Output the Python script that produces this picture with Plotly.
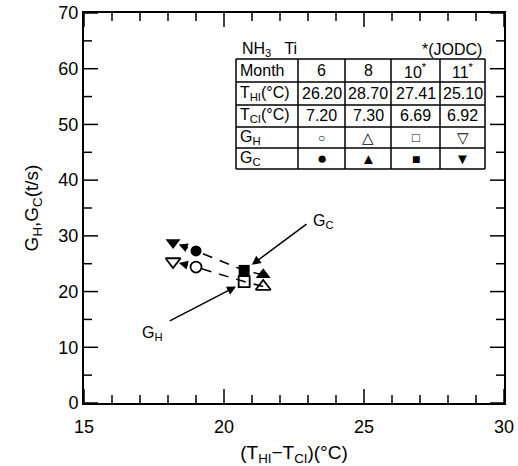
import plotly.graph_objects as go

# ---- data ----
months = ["6", "8", "10", "11"]
T_HI = [26.20, 28.70, 27.41, 25.10]
T_CI = [7.20, 7.30, 6.69, 6.92]
G_H = [24.4, 20.9, 21.8, 25.4]
G_C = [27.3, 23.0, 23.8, 28.8]
dT = [round(h - c, 2) for h, c in zip(T_HI, T_CI)]

x_range = [15, 30]
y_range = [0, 70]
x_major = list(range(15, 31, 5))
x_minor = [v for v in range(15, 31) if v % 5]
y_major = list(range(0, 71, 10))
y_minor = list(range(5, 70, 10))

sym_H = ["circle-open", "triangle-up-open", "square-open", "triangle-down-open"]
sym_C = ["circle", "triangle-up", "square", "triangle-down"]
glyph_H = ["○", "△", "□", "▽"]
glyph_C = ["●", "▲", "■", "▼"]

# line order (by temperature difference, descending) ending at November
order = sorted(range(4), key=lambda i: -dT[i])

W, H = 518, 466
L, R, T, B = 84, 14, 13, 63
PW, PH = W - L - R, H - T - B
FONT = "Liberation Sans, Arial, sans-serif"


def px(xp):
    return (xp - L) / PW


def py(yp):
    return (H - B - yp) / PH


fig = go.Figure()

# dashed trend lines (all but final segment)
for G in (G_H, G_C):
    xs = [dT[i] for i in order[:-1]]
    ys = [G[i] for i in order[:-1]]
    fig.add_trace(go.Scatter(x=xs, y=ys, mode="lines",
                             line=dict(color="black", width=1.5, dash="10px,8px"),
                             hoverinfo="skip", showlegend=False))

# markers
for i in range(4):
    fig.add_trace(go.Scatter(x=[dT[i]], y=[G_H[i]], mode="markers",
                             marker=dict(symbol=sym_H[i], size=13 if "triangle" in sym_H[i] else 11,
                                         color="black", line=dict(width=1.8, color="black")),
                             showlegend=False))
    fig.add_trace(go.Scatter(x=[dT[i]], y=[G_C[i]], mode="markers",
                             marker=dict(symbol=sym_C[i], size=13 if "triangle" in sym_C[i] else 11,
                                         color="black"),
                             showlegend=False))

annotations = []
# final segment arrows (Jun -> Nov)
a, b = order[-2], order[-1]
for G in (G_H, G_C):
    annotations.append(dict(x=dT[b], y=G[b], ax=dT[a], ay=G[a], xref="x", yref="y",
                            axref="x", ayref="y", showarrow=True, arrowhead=2,
                            arrowsize=1.2, arrowwidth=1.5, arrowcolor="black",
                            standoff=6, startstandoff=7, text=""))

# label arrows
annotations.append(dict(x=20.99, y=24.8, ax=23.0, ay=32.3, xref="x", yref="y",
                        axref="x", ayref="y", showarrow=True, arrowhead=2,
                        arrowsize=1.2, arrowwidth=1.5, arrowcolor="black", text=""))
annotations.append(dict(x=23.55, y=32.6, xref="x", yref="y", showarrow=False,
                        text="G<sub>C</sub>", font=dict(size=16, color="black", family=FONT)))
annotations.append(dict(x=20.43, y=20.9, ax=18.01, ay=14.6, xref="x", yref="y",
                        axref="x", ayref="y", showarrow=True, arrowhead=2,
                        arrowsize=1.2, arrowwidth=1.5, arrowcolor="black", text=""))
annotations.append(dict(x=17.45, y=12.4, xref="x", yref="y", showarrow=False,
                        text="G<sub>H</sub>", font=dict(size=16, color="black", family=FONT)))

shapes = []
# ---- axis ticks (inside, all four sides) ----
TK = dict(color="black", width=1.5)
for vals, ln in ((x_major, 14), (x_minor, 8)):
    for v in vals:
        shapes.append(dict(type="line", xref="x", yref="paper", x0=v, x1=v,
                           y0=0, y1=ln / PH, line=TK))
        shapes.append(dict(type="line", xref="x", yref="paper", x0=v, x1=v,
                           y0=1, y1=1 - ln / PH, line=TK))
for vals, ln in ((y_major, 14), (y_minor, 8)):
    for v in vals:
        shapes.append(dict(type="line", xref="paper", yref="y", y0=v, y1=v,
                           x0=0, x1=ln / PW, line=TK))
        shapes.append(dict(type="line", xref="paper", yref="y", y0=v, y1=v,
                           x0=1, x1=1 - ln / PW, line=TK))

# ---- table ----
col_x = [236, 298, 345, 391, 440, 485]
row_y = [59, 82, 105, 127, 148, 169]
for xv in col_x:
    shapes.append(dict(type="line", xref="paper", yref="paper",
                       x0=px(xv), x1=px(xv), y0=py(row_y[0]), y1=py(row_y[-1]),
                       line=dict(color="black", width=1.5)))
for yv in row_y:
    shapes.append(dict(type="line", xref="paper", yref="paper",
                       x0=px(col_x[0]), x1=px(col_x[-1]), y0=py(yv), y1=py(yv),
                       line=dict(color="black", width=1.5)))

rows = [
    ["Month"] + [m + ("<sup>*</sup>" if m in ("10", "11") else "") for m in months],
    ["T<sub>HI</sub>(°C)"] + [f"{v:.2f}" for v in T_HI],
    ["T<sub>CI</sub>(°C)"] + [f"{v:.2f}" for v in T_CI],
    ["G<sub>H</sub>"] + glyph_H,
    ["G<sub>C</sub>"] + glyph_C,
]
for r, row in enumerate(rows):
    yc = (row_y[r] + row_y[r + 1]) / 2
    for c, txt in enumerate(row):
        if c == 0:
            annotations.append(dict(x=px(col_x[0] + 2), y=py(yc), xref="paper", yref="paper",
                                    xanchor="left", yanchor="middle", showarrow=False, text=txt,
                                    font=dict(size=16, color="black", family=FONT)))
        else:
            xc = (col_x[c] + col_x[c + 1]) / 2
            if r < 3:
                fs = 16
            elif r == 3:
                fs = 12 if c == 1 else (15 if c in (2, 4) else 13)
            else:
                fs = 17 if c == 1 else (15 if c in (2, 4) else 14)
            annotations.append(dict(x=px(xc), y=py(yc), xref="paper", yref="paper",
                                    xanchor="center", yanchor="middle", showarrow=False, text=txt,
                                    font=dict(size=fs, color="black", family=FONT)))

annotations.append(dict(x=px(240), y=py(49), xref="paper", yref="paper", xanchor="left",
                        yanchor="middle", showarrow=False, text="NH<sub>3</sub>   Ti",
                        font=dict(size=16, color="black", family=FONT)))
annotations.append(dict(x=px(484), y=py(49), xref="paper", yref="paper", xanchor="right",
                        yanchor="middle", showarrow=False, text="*(JODC)",
                        font=dict(size=16, color="black", family=FONT)))

axis_common = dict(showgrid=False, zeroline=False, showline=True, linecolor="black",
                   linewidth=2, mirror=True, ticks="", automargin=False,
                   tickfont=dict(size=18, color="black", family=FONT))

fig.update_layout(
    width=W, height=H,
    margin=dict(l=L, r=R, t=T, b=B),
    paper_bgcolor="white", plot_bgcolor="white",
    showlegend=False,
    xaxis=dict(range=x_range, tickvals=x_major, ticklabelstandoff=6,
               title=dict(text="(T<sub>HI</sub>−T<sub>CI</sub>)(°C)",
                          font=dict(size=19, color="black", family=FONT)),
               **axis_common),
    yaxis=dict(range=y_range, tickvals=y_major, ticksuffix="  ",
               title=dict(text="G<sub>H</sub>,G<sub>C</sub>(t/s)",
                          font=dict(size=19, color="black", family=FONT)),
               **axis_common),
    shapes=shapes,
    annotations=annotations,
)

fig.write_html("out.html", config={"displayModeBar": False},
               post_script="document.body.style.margin='0';")
